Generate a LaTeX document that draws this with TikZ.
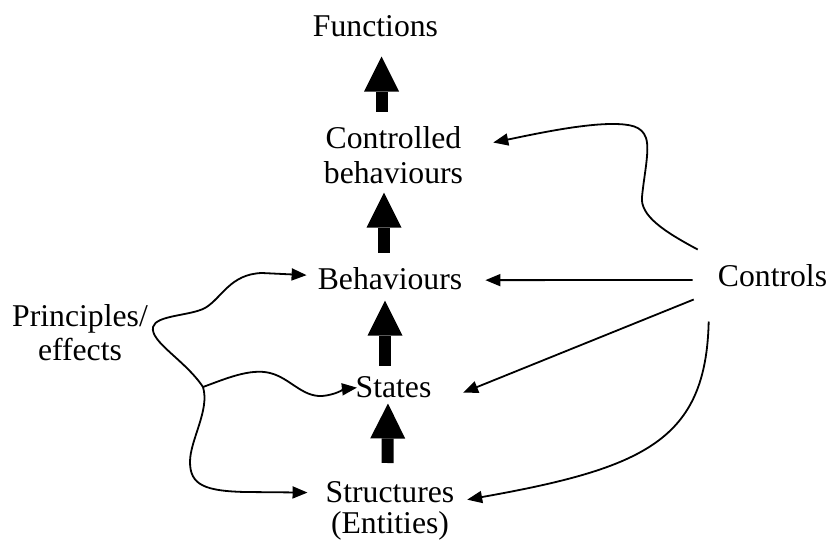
\documentclass[tikz,border=0pt]{standalone}
\usepackage{fontspec}
\setmainfont{Liberation Serif}
\usetikzlibrary{arrows.meta}
\begin{document}
\begin{tikzpicture}[x=1pt,y=-1pt,
  lbl/.style={inner sep=0pt, align=center, font=\fontsize{31.7}{35}\selectfont},
  link/.style={line width=1.8pt, -{Triangle[length=15pt,width=12pt]}},
  lift/.style={line width=12pt, -{Triangle[length=35pt,width=35pt,line width=0pt]}}]
\useasboundingbox (0,0) rectangle (833,540);

% levels of the hierarchy
\node[lbl, anchor=base]  (functions)  at (375.5,37)  {Functions};
\node[lbl, anchor=north] (controlled) at (393.5,126) {Controlled\\behaviours};
\node[lbl, anchor=base]  (behav)      at (390,290)   {Behaviours};
\node[lbl, anchor=base]  (states)     at (393.5,397) {States};
\node[lbl, anchor=north, font=\fontsize{31.7}{31}\selectfont]
                         (structures) at (390,481)   {Structures\\(Entities)};

% side inputs
\node[lbl, anchor=north, font=\fontsize{31.7}{34}\selectfont]
                         (principles) at (80,304)    {Principles/\\effects};
\node[lbl, anchor=base]  (controls)   at (772.5,287) {Controls};

% thick upward arrows between levels
\draw[lift] ([xshift=-12pt,yshift=14pt]controlled.north) -- ([xshift=6pt,yshift=-19pt]functions.south);
\draw[lift] ([xshift=-6pt,yshift=15pt]behav.north) -- ([xshift=-9.5pt,yshift=-9pt]controlled.south);
\draw[lift] ([xshift=-8.5pt,yshift=10pt]states.north) -- ([xshift=-5pt,yshift=-10pt]behav.south);
\draw[lift] ([xshift=-2.5pt,yshift=18pt]structures.north) -- ([xshift=-5.5pt,yshift=-6pt]states.south);

% controls acting on the levels
\draw[link] ([xshift=-20pt,yshift=15.3pt]controls.north west)
  .. controls (665,232) and (640,216) .. (642,197)
  .. controls (644,175) and (650,150) .. (646,138)
  .. controls (642,126) and (630,124) .. (612,124)
  .. controls (580,124) and (530,135) .. ([xshift=30pt,yshift=12.3pt]controlled.east);
\draw[link] ([xshift=-25pt,yshift=-3.8pt]controls.west) -- ([xshift=23pt,yshift=-1pt]behav.east);
\draw[link] ([xshift=-24pt,yshift=-12pt]controls.south west) -- ([xshift=31.5pt,yshift=-6pt]states.east);
\draw[link] ([xshift=-9pt,yshift=-34pt]controls.south west)
  .. controls (706,440) and (645,468) .. ([xshift=12.7pt,yshift=10.9pt]structures.east);

% principles/effects branching to three levels
\coordinate (junction) at (203,387);
\draw[link] (junction)
  .. controls (185,360) and (150,342) .. (153,327)
  .. controls (156,315) and (190,316) .. (205,308)
  .. controls (222,298) and (230,274) .. (262,273)
  -- ([xshift=-11pt,yshift=4pt]behav.west);
\draw[link] (junction)
  .. controls (225,379) and (250,368) .. (270,373)
  .. controls (290,378) and (302,397) .. (322,396)
  .. controls (335,395) and (345,389) .. ([xshift=1.5pt,yshift=-1pt]states.west);
\draw[link] (junction)
  .. controls (210,410) and (190,440) .. (190,462)
  .. controls (190,485) and (205,491) .. (245,492)
  -- ([xshift=-18pt,yshift=18pt]structures.west);
\end{tikzpicture}
\end{document}
